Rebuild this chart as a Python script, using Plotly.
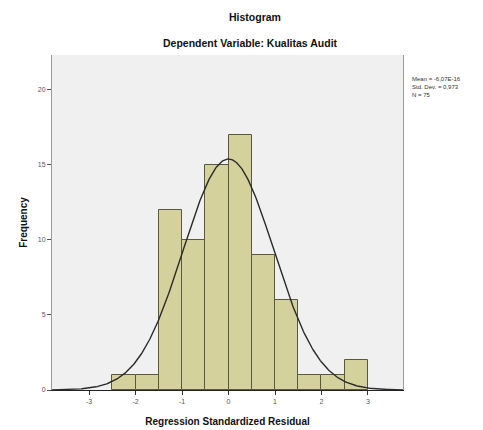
import numpy as np
import plotly.graph_objects as go

# Data
bin_edges = [-2.5, -2.0, -1.5, -1.0, -0.5, 0.0, 0.5, 1.0, 1.5, 2.0, 2.5, 3.0]
frequencies = [1, 1, 12, 10, 15, 17, 9, 6, 1, 1, 2]
mean_val = -6.07e-16
std_dev = 0.973
n_obs = 75
x_ticks = [-3, -2, -1, 0, 1, 2, 3]
y_ticks = [0, 5, 10, 15, 20]
stats_text = ["Mean = -6,07E-16", "Std. Dev. = 0,973", "N = 75"]

centers = [(bin_edges[i] + bin_edges[i + 1]) / 2 for i in range(len(frequencies))]
bw = bin_edges[1] - bin_edges[0]

xs = np.linspace(-3.8, 3.8, 400)
ys = n_obs * bw * np.exp(-0.5 * ((xs - mean_val) / std_dev) ** 2) / (std_dev * np.sqrt(2 * np.pi))

fig = go.Figure()
fig.add_trace(go.Bar(
    x=centers, y=frequencies, width=bw,
    marker=dict(color="#D5D19C", line=dict(color="#5a5940", width=1)),
    showlegend=False, hoverinfo="skip",
))
fig.add_trace(go.Scatter(
    x=xs, y=ys, mode="lines",
    line=dict(color="#2b2b2b", width=1.4),
    showlegend=False, hoverinfo="skip",
))

font_fam = "Liberation Sans, Arial, sans-serif"
fig.update_layout(
    width=483, height=430,
    margin=dict(l=44, r=88, t=47, b=48),
    paper_bgcolor="white",
    plot_bgcolor="#F0F0F0",
    bargap=0,
    font=dict(family=font_fam, color="#222"),
    xaxis=dict(
        range=[-3.796, 3.753], tickvals=x_ticks, ticktext=[str(t) for t in x_ticks],
        ticks="outside", ticklen=4, tickcolor="#333",
        tickfont=dict(size=7, color="#555"),
        showgrid=False, zeroline=False,
        showline=True, linecolor="#222", linewidth=1.2, mirror=False,
        title=dict(text="<b>Regression Standardized Residual</b>", font=dict(size=10, color="#111"), standoff=14),
    ),
    yaxis=dict(
        range=[0, 22.3], tickvals=y_ticks, ticktext=[str(t) for t in y_ticks],
        ticks="outside", ticklen=4, tickcolor="#555",
        tickfont=dict(size=7, color="#555"),
        showgrid=False, zeroline=False,
        showline=True, linecolor="#999", linewidth=1, mirror=True,
        title=dict(text="<b>Frequency</b>", font=dict(size=10, color="#111"), standoff=8),
    ),
)

fig.add_annotation(
    text="<b>Histogram</b>", xref="paper", yref="paper",
    x=(255 - 52) / 351, y=1 + (55 - 17) / 335, showarrow=False,
    font=dict(size=10.5, color="#111"), xanchor="center", yanchor="middle",
)
fig.add_annotation(
    text="<b>Dependent Variable: Kualitas Audit</b>", xref="paper", yref="paper",
    x=(250 - 52) / 351, y=1 + (55 - 43) / 335, showarrow=False,
    font=dict(size=10.5, color="#111"), xanchor="center", yanchor="middle",
)
fig.add_annotation(
    text="<br>".join(stats_text), xref="paper", yref="paper",
    x=(410 - 52) / 351, y=1 - (74 - 55) / 335, showarrow=False, align="left",
    font=dict(size=6, color="#333"), xanchor="left", yanchor="top",
)

fig.write_html("out.html")
